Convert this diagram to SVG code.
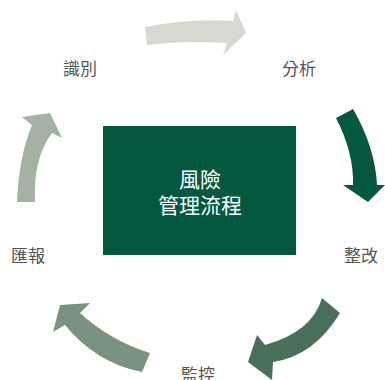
<svg xmlns="http://www.w3.org/2000/svg" width="385" height="380" viewBox="0 0 385 380">
<style>
.lbl{font-family:"Noto Sans CJK TC","Noto Sans CJK SC",sans-serif;font-size:17px;fill:#555;text-anchor:middle}
.ctr{font-family:"Noto Sans CJK TC","Noto Sans CJK SC",sans-serif;font-size:21px;fill:#fff;text-anchor:middle}
</style>
<rect width="385" height="380" fill="#fff"/>
<g id="connectors">
<path d="M145,27 Q190,18 233,21 L236,10 L246,33 L223,55 L227,43 Q190,40 147,45 Z" fill="#d5d9d2"/>
<path d="M336,118 L353,109 Q375,147 377,185 L385,185 L368,202 L343,185 L353,185 Q354,153 336,118 Z" fill="#03583f"/>
<path d="M322,298 Q312,332 265,345 L257,335 L248,362 L272,380 L273,362 Q314,356 340,313 Z" fill="#49705a"/>
<path d="M150,353 Q111,341 80,313 L90,303 L60,305 L53,332 L65,325 Q96,363 142,372 Z" fill="#7a9380"/>
<path d="M17,202 Q19,156 32,125 L22,117 L50,113 L62,138 L52,133 Q33,158 35,202 Z" fill="#a4b1a4"/>
</g>
<g id="center">
<rect x="103" y="126" width="193" height="129" fill="#03583f"/>
<text class="ctr" x="200" y="187">風險</text>
<text class="ctr" x="200" y="213">管理流程</text>
</g>
<g id="identify"><text class="lbl" x="80" y="75">識別</text></g>
<g id="analyze"><text class="lbl" x="299" y="75">分析</text></g>
<g id="improve"><text class="lbl" x="361" y="262">整改</text></g>
<g id="monitor"><text class="lbl" x="198" y="381">監控</text></g>
<g id="report"><text class="lbl" x="28" y="262">匯報</text></g>
</svg>
